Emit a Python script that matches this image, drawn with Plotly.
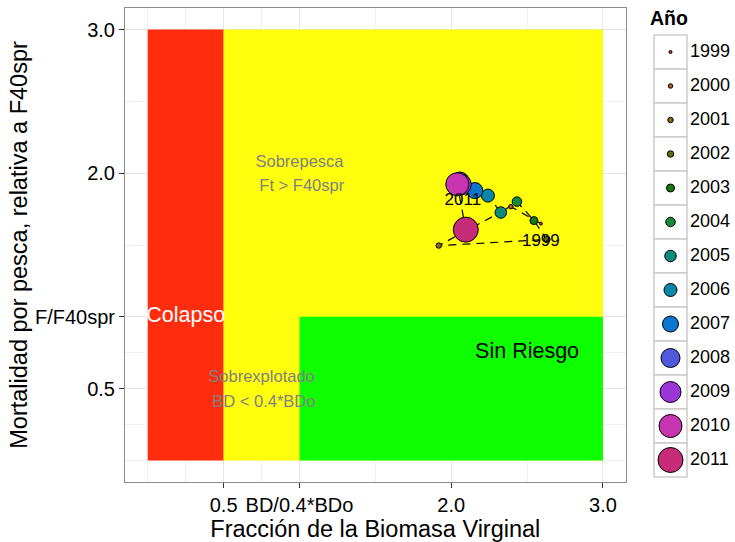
import plotly.graph_objects as go

# ---------------- data ----------------
years = [1999, 2000, 2001, 2002, 2003, 2004, 2005, 2006, 2007, 2008, 2009, 2010, 2011]
biomass = [2.591, 2.393, 1.918, 2.631, 2.545, 2.433, 2.327, 2.242, 2.156, 2.057, 2.063, 2.040, 2.096]
fishing = [1.649, 1.767, 1.496, 1.538, 1.670, 1.802, 1.726, 1.844, 1.879, 1.942, 1.921, 1.923, 1.607]

label_text = ["1999", "2011"]
label_x = [2.591, 2.077]
label_y = [1.523, 1.809]

zone_x0 = [0.0, 0.5, 1.0]
zone_x1 = [0.5, 3.0, 3.0]
zone_y0 = [0.0, 0.0, 0.0]
zone_y1 = [3.0, 3.0, 1.0]

zone_text = ["Sobrepesca", " Ft > F40spr", "Sobrexplotado", " BD < 0.4*BDo", "Colapso", "Sin Riesgo"]
zone_text_x = [1.0, 1.0, 0.75, 0.75, 0.25, 2.5]
zone_text_y = [2.072, 1.904, 0.572, 0.400, 1.0, 0.75]

x_tickvals = [0.5, 1.0, 2.0, 3.0]
x_ticktext = ["0.5", "BD/0.4*BDo", "2.0", "3.0"]
y_tickvals = [0.5, 1.0, 2.0, 3.0]
y_ticktext = ["0.5", "F/F40spr", "2.0", "3.0"]
minor_vals = [0.0, 0.25, 0.75, 1.5, 2.5]

# ---------------- styles ----------------
zone_colors = ["#FF2200", "#FFFF00", "#00FF00"]
zone_text_colors = ["#808080", "#808080", "#808080", "#808080", "#FFFFFF", "#000000"]
zone_text_sizes = [16.5, 16.5, 16.5, 16.5, 21.5, 21.5]
point_colors = ["#C23B22", "#B05A1A", "#866B0A", "#5A7010", "#157A12", "#138B3A",
                "#0E8C7A", "#0A86A8", "#0A76D0", "#5058DD", "#9A35D8", "#C634B0", "#C72C78"]
point_sizes = [3, 4.5, 5.5, 6.5, 8, 9.5, 11.5, 13, 16, 19, 21, 23, 25]
FONT = "Liberation Sans, Arial, Helvetica, sans-serif"

fig = go.Figure()

# zones
for i in range(len(zone_x0)):
    fig.add_trace(go.Scatter(
        x=[zone_x0[i], zone_x1[i], zone_x1[i], zone_x0[i], zone_x0[i]],
        y=[zone_y0[i], zone_y0[i], zone_y1[i], zone_y1[i], zone_y0[i]],
        mode="lines", fill="toself", fillcolor=zone_colors[i],
        line=dict(width=0), opacity=0.95, hoverinfo="skip", showlegend=False))

# zone labels
for i in range(len(zone_text)):
    fig.add_trace(go.Scatter(
        x=[zone_text_x[i]], y=[zone_text_y[i]], mode="text", text=[zone_text[i]],
        textposition="middle center",
        textfont=dict(family=FONT, size=zone_text_sizes[i], color=zone_text_colors[i]),
        hoverinfo="skip", showlegend=False))

# path
fig.add_trace(go.Scatter(
    x=biomass, y=fishing, mode="lines",
    line=dict(color="black", width=1.2, dash="8px,6px"),
    hoverinfo="skip", showlegend=False))

# points
fig.add_trace(go.Scatter(
    x=biomass, y=fishing, mode="markers",
    marker=dict(color=point_colors, size=point_sizes, opacity=1,
                line=dict(color="black", width=1)),
    text=[str(y) for y in years], showlegend=False))

# year labels
fig.add_trace(go.Scatter(
    x=label_x, y=label_y, mode="text", text=label_text, textposition="middle center",
    textfont=dict(family=FONT, size=17, color="black"),
    hoverinfo="skip", showlegend=False))

# ---------------- manual legend (pixel coordinates on a hidden axis pair) ----------------
key_top = 35
key_h = 34
key_x0, key_x1 = 654, 687
key_cx = (key_x0 + key_x1) / 2
centers = [key_top + key_h * (i + 0.5) for i in range(len(years))]
shapes = []
for i in range(len(years)):
    shapes.append(dict(type="rect", xref="x2", yref="y2",
                       x0=key_x0, x1=key_x1,
                       y0=key_top + key_h * i, y1=key_top + key_h * (i + 1),
                       line=dict(color="#CCCCCC", width=1.5), fillcolor="white", layer="below"))
fig.add_trace(go.Scatter(
    x=[key_cx] * len(years), y=centers, mode="markers", xaxis="x2", yaxis="y2",
    marker=dict(color=point_colors, size=point_sizes, opacity=1,
                line=dict(color="black", width=1)),
    hoverinfo="skip", showlegend=False))
fig.add_trace(go.Scatter(
    x=[690] * len(years), y=centers, mode="text", xaxis="x2", yaxis="y2",
    text=[str(y) for y in years], textposition="middle right",
    textfont=dict(family=FONT, size=18, color="black"),
    hoverinfo="skip", showlegend=False))
fig.add_trace(go.Scatter(
    x=[650], y=[20], mode="text", xaxis="x2", yaxis="y2",
    text=["<b>Año</b>"], textposition="middle right",
    textfont=dict(family=FONT, size=19.5, color="black"),
    hoverinfo="skip", showlegend=False))

L, R, T, B = 125, 0, 8, 60
W, H = 735, 542
pw = W - L - R
main_right = (625.7 - L) / pw

axis_common = dict(
    showline=True, mirror=True, linecolor="#8C8C8C", linewidth=1,
    ticks="outside", ticklen=5, tickwidth=1, tickcolor="#333333",
    showgrid=True, gridcolor="#E5E5E5", gridwidth=1,
    zeroline=False,
    tickfont=dict(family=FONT, size=20, color="black"),
    minor=dict(tickvals=minor_vals, showgrid=True, gridcolor="#F0F0F0", gridwidth=1, ticks=""),
)

fig.update_layout(
    width=W, height=H,
    margin=dict(l=L, r=R, t=T, b=B),
    paper_bgcolor="white", plot_bgcolor="white",
    showlegend=False,
    shapes=shapes,
    xaxis=dict(domain=[0, main_right], range=[-0.15, 3.15],
               tickmode="array", tickvals=x_tickvals, ticktext=x_ticktext,
               title=dict(text="Fracción de la Biomasa Virginal",
                          font=dict(family=FONT, size=23.5, color="black"), standoff=0),
               **axis_common),
    yaxis=dict(domain=[0, 1], range=[-0.15, 3.15],
               tickmode="array", tickvals=y_tickvals, ticktext=y_ticktext,
               title=dict(text="Mortalidad por pesca, relativa a F40spr",
                          font=dict(family=FONT, size=23.5, color="black"), standoff=0),
               **axis_common),
    xaxis2=dict(domain=[(640 - L) / pw, 1], range=[640, 735], visible=False, fixedrange=True),
    yaxis2=dict(domain=[0, 1], range=[H - B, T], anchor="x2", visible=False, fixedrange=True),
)

fig.write_html("out.html")
